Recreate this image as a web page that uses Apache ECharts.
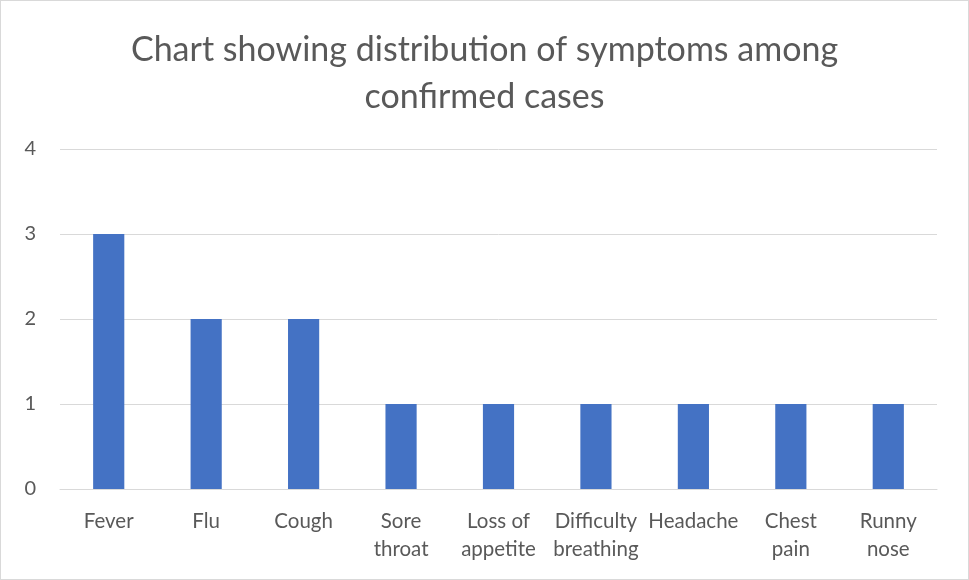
<!DOCTYPE html>
<html>
<head>
<meta charset="utf-8">
<script src="https://cdn.jsdelivr.net/npm/echarts@6/dist/echarts.min.js"></script>
<style>
    html, body { margin: 0; padding: 0; background: #fff; }
    #chart {
        width: 967px;
        height: 578px;
        border: 1px solid #d9d9d9;
    }
</style>
</head>
<body>
<div id="chart"></div>
<script>
    // 症状分类
    const categories = ["Fever", "Flu", "Cough", "Sore\nthroat", "Loss of\nappetite",
        "Difficulty\nbreathing", "Headache", "Chest\npain", "Runny\nnose"];
    // 确诊病例数
    const counts = [3, 2, 2, 1, 1, 1, 1, 1, 1];
    const yTicks = [0, 1, 2, 3, 4];

    const chart = echarts.init(document.getElementById("chart"));

    const option = {
        animation: false,
        title: {
            text: "Chart showing distribution of symptoms among\nconfirmed cases",
            left: "center",
            top: 21,
            textStyle: {
                fontFamily: "Lato",
                fontSize: 34,
                fontWeight: "normal",
                color: "#595959",
                lineHeight: 47
            }
        },
        grid: {
            left: 59,
            right: 31,
            top: 148,
            bottom: 90
        },
        xAxis: {
            type: "category",
            data: categories,
            axisLine: { lineStyle: { color: "#d9d9d9" } },
            axisTick: { show: false },
            axisLabel: {
                interval: 0,
                margin: 18,
                fontFamily: "Lato",
                fontSize: 20.5,
                lineHeight: 28,
                color: "#595959"
            }
        },
        yAxis: {
            type: "value",
            min: yTicks[0],
            max: yTicks[yTicks.length - 1],
            interval: 1,
            axisLine: { show: false },
            axisTick: { show: false },
            splitLine: { lineStyle: { color: "#d9d9d9" } },
            axisLabel: {
                margin: 24,
                fontFamily: "Lato",
                fontSize: 20,
                color: "#595959"
            }
        },
        series: [
            {
                type: "bar",
                data: counts,
                barWidth: "32%",
                itemStyle: { color: "#4472c4" }
            }
        ]
    };
    chart.setOption(option);
</script>
</body>
</html>
